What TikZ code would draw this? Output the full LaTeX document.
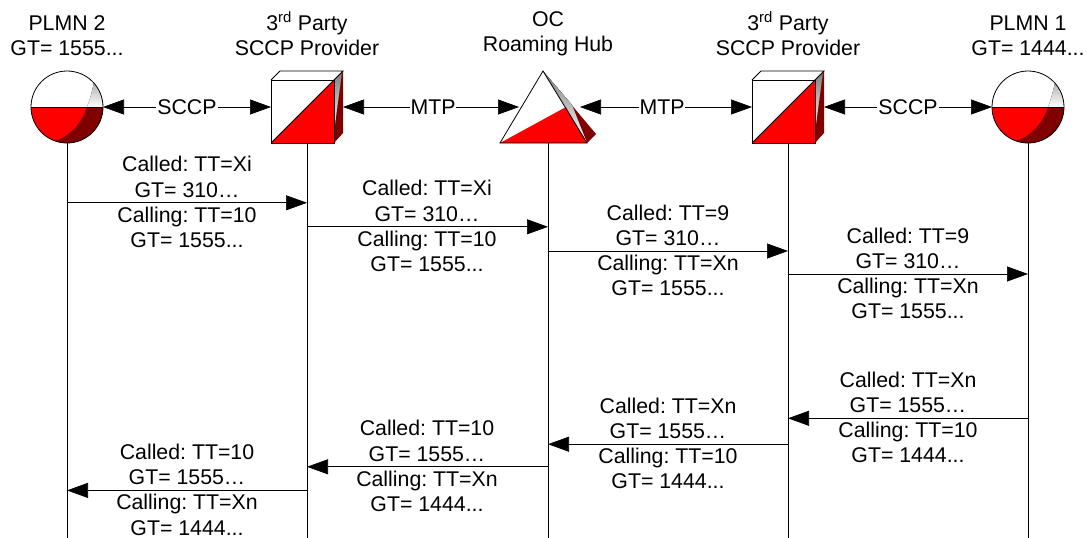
\documentclass[tikz,border=0pt]{standalone}
\usepackage{fontspec}
\setmainfont{Liberation Sans}
\usetikzlibrary{positioning,arrows.meta,calc}
\definecolor{darkred}{RGB}{128,0,0}
\definecolor{shade}{RGB}{192,192,192}
\frenchspacing
\tikzset{
  plmnicon/.pic={
    \begin{scope}
      \clip (0,0) circle [radius=36];
      \fill[white] (-40,-40) rectangle (40,0);
      \fill[red] (-40,0) rectangle (40,40);
      \fill[shade] (20,0) .. controls (23,-8) .. (27,-24) -- (40,-40) -- (40,0) -- cycle;
      \fill[darkred] (-12,34) .. controls (5,28) and (15,15) .. (20,0) -- (40,0) -- (40,40) -- (-12,40) -- cycle;
    \end{scope}
    \draw[line width=.8pt] (0,0) circle [radius=36];
    \draw[line width=.8pt] (-36,0) -- (36,0);
  },
  cubeicon/.pic={
    \fill[white] (-36,-27) -- (-27,-36) -- (36,-36) -- (27,-27) -- cycle;
    \fill[white] (-36,-27) rectangle (27,36);
    \fill[red] (-36,36) -- (27,-27) -- (27,36) -- cycle;
    \fill[shade] (27,-27) -- (35,-34) -- (27,26) -- cycle;
    \fill[darkred] (36,-36) -- (36,26) -- (27,36) -- (27,26) -- (35,-34) -- cycle;
    \draw[line width=.8pt] (-36,-27) rectangle (27,36);
    \draw[line width=.8pt] (-36,36) -- (27,-27);
    \draw[line width=.8pt] (-36,-27) -- (-27,-36) -- (36,-36) -- (27,-27);
  },
  hubicon/.pic={
    \fill[white] (-5,-36) -- (-48,36) -- (39,36) -- cycle;
    \fill[red] (-48,36) -- (18,0) -- (39,36) -- cycle;
    \fill[darkred] (-5,-36) -- (48,27) -- (39,36) -- (24,-2) -- cycle;
    \fill[shade] (-5,-36) -- (24,-2) -- (39,36) -- (18,0) -- cycle;
    \draw[line width=.8pt] (-5,-36) -- (-48,36) -- (39,36) -- cycle;
  },
  icon/.style={minimum height=72pt,inner sep=0pt,outer sep=0pt},
  head/.style={align=center,font=\fontsize{21.3}{25}\selectfont},
  msg/.style={align=center,font=\fontsize{21.3}{25.2}\selectfont},
  link/.style={line width=.7pt,{Triangle[length=21pt,width=15pt]}-{Triangle[length=21pt,width=15pt]}},
  linklabel/.style={fill=white,inner xsep=1pt,inner ysep=0pt,font=\fontsize{21.3}{22}\selectfont},
  call/.style={line width=.7pt,-{Triangle[length=21pt,width=15pt]}},
}
\begin{document}
\begin{tikzpicture}[x=1pt,y=-1pt]
  \useasboundingbox (0,0) rectangle (1087,538);
  \coordinate (pagebottom) at (0,538);
  \node[icon,minimum width=72pt] (plmnb) at (67,107) {};
  \node[icon,minimum width=72pt] (cubea) at (307,107) {};
  \node[icon,minimum width=56pt] (hub) at (548,107) {};
  \node[icon,minimum width=72pt] (cubeb) at (788,107) {};
  \node[icon,minimum width=72pt] (plmna) at (1028,107) {};
  % lifelines
  \foreach \nodename in {plmnb,cubea,hub,cubeb,plmna}
    \draw[line width=.7pt] (\nodename.south) -- (\nodename.south |- pagebottom);
  % icons
  \pic at (plmnb) {plmnicon};
  \pic at (cubea) {cubeicon};
  \pic at (hub) {hubicon};
  \pic at (cubeb) {cubeicon};
  \pic at (plmna) {plmnicon};
  % titles
  \node[head,above=12pt of plmnb] (titleplmnb) {PLMN 2\\GT= 1555...};
  \node[head,above=12pt of cubea] (titlecubea) {3\textsuperscript{rd} Party\\SCCP Provider};
  \node[head,above=12pt of hub] (titlehub) {OC\\Roaming Hub};
  \node[head,above=12pt of cubeb] (titlecubeb) {3\textsuperscript{rd} Party\\SCCP Provider};
  \node[head,above=12pt of plmna] (titleplmna) {PLMN 1\\GT= 1444...};
  % links
  \coordinate (sccpa) at (187,107);
  \coordinate (mtpa) at (433,107);
  \coordinate (mtpb) at (662,107);
  \coordinate (sccpb) at (908,107);
  \draw[link] (plmnb) -- (cubea);
  \draw[link,shorten >=1pt] (cubea) -- (hub);
  \draw[link,shorten <=4pt] (hub) -- (cubeb);
  \draw[link] (cubeb) -- (plmna);
  \node[linklabel] (labelsccpa) at (sccpa) {SCCP};
  \node[linklabel] (labelmtpa) at (mtpa) {MTP};
  \node[linklabel] (labelmtpb) at (mtpb) {MTP};
  \node[linklabel] (labelsccpb) at (sccpb) {SCCP};
  % messages
  \foreach \msgname/\fromnode/\tonode/\xpos/\ypos/\msgtext in {
    ma/plmnb/cubea/187/202/{Called: TT=Xi\\GT= 310…\\Calling: TT=10\\GT= 1555...},
    mb/cubea/hub/427/226/{Called: TT=Xi\\GT= 310…\\Calling: TT=10\\GT= 1555...},
    mc/hub/cubeb/668/250.2/{Called: TT=9\\GT= 310…\\Calling: TT=Xn\\GT= 1555...},
    md/cubeb/plmna/908/273.2/{Called: TT=9\\GT= 310…\\Calling: TT=Xn\\GT= 1555...},
    me/plmna/cubeb/908/417.5/{Called: TT=Xn\\GT= 1555…\\Calling: TT=10\\GT= 1444...},
    mf/cubeb/hub/668/443.4/{Called: TT=Xn\\GT= 1555…\\Calling: TT=10\\GT= 1444...},
    mg/hub/cubea/427/466/{Called: TT=10\\GT= 1555…\\Calling: TT=Xn\\GT= 1444...},
    mh/cubea/plmnb/187/489.6/{Called: TT=10\\GT= 1555…\\Calling: TT=Xn\\GT= 1444...}}
  {
    \node[msg] (\msgname) at (\xpos,\ypos) {\msgtext};
    \draw[call] ($(\fromnode.south |- \msgname)+(0,.8)$) -- ($(\tonode.south |- \msgname)+(0,.8)$);
  }
\end{tikzpicture}
\end{document}
